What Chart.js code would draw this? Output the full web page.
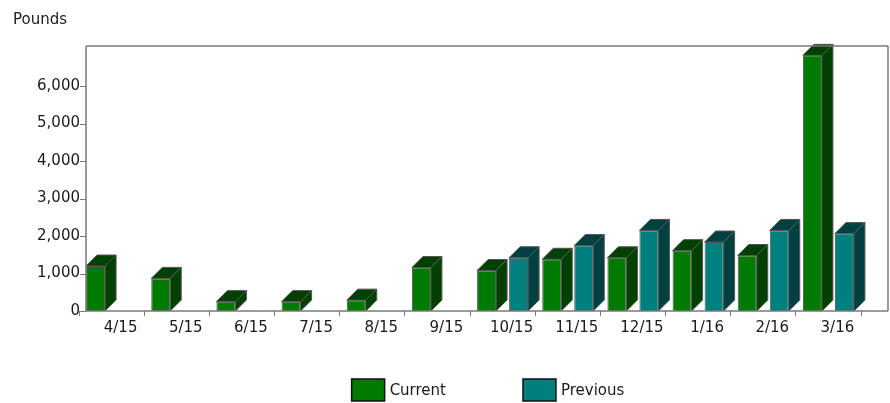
<!DOCTYPE html>
<html>
<head>
<meta charset="utf-8">
<script src="https://cdn.jsdelivr.net/npm/chart.js@4.4.1/dist/chart.umd.min.js"></script>
<style>
  html, body { margin: 0; padding: 0; background: #fff; }
  #wrap { width: 890px; height: 403px; position: relative; }
</style>
</head>
<body>
<div id="wrap"><canvas id="chart"></canvas></div>
<script>
// values
categories = ['4/15', '5/15', '6/15', '7/15', '8/15', '9/15', '10/15', '11/15', '12/15', '1/16', '2/16', '3/16']
currentPounds = [1200, 870, 250, 250, 290, 1160, 1080, 1380, 1420, 1610, 1480, 6820]
previousPounds = [null, null, null, null, null, null, 1420, 1745, 2150, 1840, 2150, 2065]
yTicks = [0, 1000, 2000, 3000, 4000, 5000, 6000]
seriesNames = ['Current', 'Previous']

DEPTH = 11       // 3d offset of the bars
WALL_SHIFT = 7   // frame sits a little right of the category axis
FRAME_EXTRA = 27

Chart.defaults.font.family = "'DejaVu Sans', sans-serif"
Chart.defaults.font.size = 15
Chart.defaults.color = '#1a1a1a'

// draws tops and sides of the bars, the frame, y tick dashes and the legend
var fakeDepth = {
	id: 'fakeDepth',
	afterDatasetsDraw: function(chart) {
		var ctx = chart.ctx
		chart.data.datasets.forEach(function(ds, i) {
			var meta = chart.getDatasetMeta(i)
			meta.data.forEach(function(bar, j) {
				if (ds.data[j] == null) return
				var l = bar.x - bar.width / 2, r = bar.x + bar.width / 2
				ctx.save()
				ctx.fillStyle = ds.sideColor
				ctx.strokeStyle = '#555'
				ctx.lineWidth = 1
				ctx.beginPath()
				ctx.moveTo(l, bar.y)
				ctx.lineTo(l + DEPTH, bar.y - DEPTH)
				ctx.lineTo(r + DEPTH, bar.y - DEPTH)
				ctx.lineTo(r, bar.y)
				ctx.closePath()
				ctx.fill(); ctx.stroke()
				ctx.beginPath()
				ctx.moveTo(r, bar.y)
				ctx.lineTo(r + DEPTH, bar.y - DEPTH)
				ctx.lineTo(r + DEPTH, bar.base - DEPTH)
				ctx.lineTo(r, bar.base)
				ctx.closePath()
				ctx.fill(); ctx.stroke()
				ctx.restore()
			})
		})
	},
	afterDraw: function(chart) {
		var ctx = chart.ctx
		var a = chart.chartArea
		var left = a.left + WALL_SHIFT, right = a.right + FRAME_EXTRA
		ctx.save()
		ctx.strokeStyle = '#7a7a7a'
		ctx.lineWidth = 1.5
		ctx.beginPath()
		ctx.moveTo(left, a.top); ctx.lineTo(right, a.top)
		ctx.moveTo(right, a.top); ctx.lineTo(right, a.bottom)
		ctx.moveTo(left, a.top); ctx.lineTo(left, a.bottom)
		ctx.moveTo(left, a.bottom); ctx.lineTo(right, a.bottom)
		ctx.stroke()
		ctx.lineWidth = 1
		ctx.beginPath()
		yTicks.forEach(function(v) {
			var y = Math.round(chart.scales.y.getPixelForValue(v)) + 0.5
			ctx.moveTo(left - 6, y); ctx.lineTo(left, y)
		})
		ctx.stroke()

		// legend
		var boxW = 33, boxH = 22, gap = 5, between = 77
		ctx.font = "15px 'DejaVu Sans', sans-serif"
		var widths = chart.data.datasets.map(function(ds) { return boxW + gap + ctx.measureText(ds.label).width })
		var total = widths.reduce(function(s, w) { return s + w }, 0) + between * (widths.length - 1)
		var x = (left + right) / 2 - total / 2 + 1
		var yTop = 379
		chart.data.datasets.forEach(function(ds, i) {
			ctx.fillStyle = ds.backgroundColor
			ctx.fillRect(x, yTop, boxW, boxH)
			ctx.strokeStyle = '#111'
			ctx.lineWidth = 1.5
			ctx.strokeRect(x, yTop, boxW, boxH)
			ctx.fillStyle = '#1a1a1a'
			ctx.textBaseline = 'middle'
			ctx.textAlign = 'left'
			ctx.fillText(ds.label, x + boxW + gap, yTop + boxH / 2 + 1)
			x += widths[i] + between
		})
		ctx.restore()
	}
}

var chrt = document.getElementById('chart').getContext('2d')
var chartId = new Chart(chrt, {
	type: 'bar',
	data: {
		labels: categories,
		datasets: [
			{ label: seriesNames[0], data: currentPounds, backgroundColor: '#007a00', sideColor: '#004000', borderColor: '#555', borderWidth: 1 },
			{ label: seriesNames[1], data: previousPounds, backgroundColor: '#007f7f', sideColor: '#004040', borderColor: '#555', borderWidth: 1 }
		]
	},
	options: {
		responsive: true,
		maintainAspectRatio: false,
		animation: false,
		layout: { padding: { left: 13, right: 29, top: 0, bottom: 0 } },
		datasets: { bar: { categoryPercentage: 0.982, barPercentage: 0.594 } },
		plugins: {
			legend: { display: false },
			tooltip: { enabled: false },
			title: {
				display: true, text: 'Pounds', align: 'start',
				font: { size: 15, weight: 'normal' }, color: '#1a1a1a',
				padding: { top: 11, bottom: 17 }
			}
		},
		scales: {
			x: {
				grid: { drawOnChartArea: false, offset: true, tickLength: 5, color: '#7a7a7a' },
				border: { display: false },
				ticks: { labelOffset: 9, padding: 3, maxRotation: 0, autoSkip: false },
				afterFit: function(scale) { scale.height = 92 }
			},
			y: {
				min: 0, max: 7070,
				grid: { display: false, drawTicks: false },
				border: { display: false },
				afterBuildTicks: function(scale) {
					scale.ticks = yTicks.map(function(v) { return { value: v } })
				},
				ticks: {
					padding: -1, autoSkip: false,
					callback: function(v) { return v.toLocaleString('en-US') }
				},
				afterFit: function(scale) { scale.width = 66 }
			}
		}
	},
	plugins: [fakeDepth]
})
</script>
</body>
</html>
